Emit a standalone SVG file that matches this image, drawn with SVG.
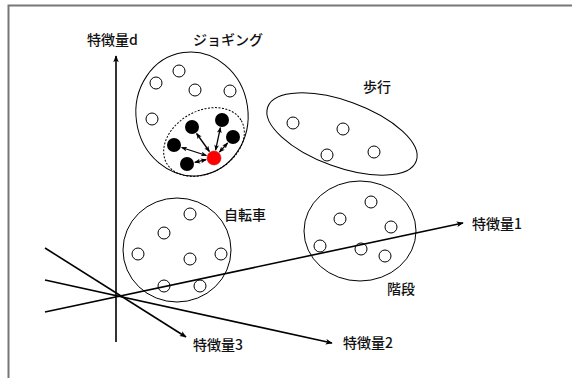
<svg xmlns="http://www.w3.org/2000/svg" width="572" height="378" viewBox="0 0 572 378">
<defs>
<marker id="ah" viewBox="0 0 10 8" refX="9" refY="4" markerWidth="7" markerHeight="6" markerUnits="userSpaceOnUse" orient="auto">
<path d="M0,0 L10,4 L0,8 L2.5,4 z" fill="#000"/>
</marker>
<marker id="ahs" viewBox="0 0 10 8" refX="9" refY="4" markerWidth="6" markerHeight="5" markerUnits="userSpaceOnUse" orient="auto-start-reverse">
<path d="M0,0 L10,4 L0,8 L2.5,4 z" fill="#000"/>
</marker>
</defs>
<style>
.t{font-family:"Noto Sans CJK JP","Liberation Sans",sans-serif;font-size:14px;font-weight:500;fill:#111}
.c{fill:#fff;stroke:#000;stroke-width:1}
.b{fill:#000}
.g{fill:none;stroke:#000;stroke-width:1}
.ax{stroke:#000;stroke-width:1.6;fill:none}
.da{stroke:#000;stroke-width:1.3;fill:none;marker-start:url(#ahs);marker-end:url(#ahs)}
</style>
<rect x="0" y="0" width="572" height="378" fill="#fff"/>
<path d="M8.5,378 V5.5 H572" fill="none" stroke="#777" stroke-width="2"/>

<g id="jogging">
<ellipse class="g" cx="192" cy="114" rx="56" ry="62" transform="rotate(-8 192 114)"/>
<ellipse class="g" cx="204" cy="142" rx="43" ry="31" stroke-dasharray="2,1.5" transform="rotate(-30 204 142)"/>
<circle class="c" cx="179" cy="71" r="6"/>
<circle class="c" cx="156" cy="83" r="6"/>
<circle class="c" cx="195" cy="90" r="6"/>
<circle class="c" cx="230" cy="91" r="6"/>
<circle class="c" cx="152" cy="119" r="6"/>
<circle class="b" cx="192" cy="127" r="7"/>
<circle class="b" cx="222" cy="120" r="7"/>
<circle class="b" cx="233" cy="137" r="7"/>
<circle class="b" cx="174" cy="145" r="7"/>
<circle class="b" cx="187" cy="164" r="7"/>
<circle cx="214" cy="158" r="7" fill="#f00" stroke="#c00" stroke-width="0.5"/>
<line class="da" x1="209.4" y1="151.5" x2="196.6" y2="133.5"/>
<line class="da" x1="215.6" y1="150.2" x2="220.4" y2="127.6"/>
<line class="da" x1="219.4" y1="152.1" x2="227.6" y2="143.0"/>
<line class="da" x1="206.4" y1="155.5" x2="181.6" y2="147.5"/>
<line class="da" x1="206.2" y1="159.7" x2="194.8" y2="162.3"/>
<text class="t" x="193" y="45">ジョギング</text>
</g>

<g id="walking">
<ellipse class="g" cx="342" cy="134" rx="79" ry="33" transform="rotate(20 342 134)"/>
<circle class="c" cx="293" cy="123" r="6"/>
<circle class="c" cx="343" cy="129" r="6"/>
<circle class="c" cx="327" cy="155" r="6"/>
<circle class="c" cx="374" cy="152" r="6"/>
<text class="t" x="363" y="92">歩行</text>
</g>

<g id="bicycle">
<ellipse class="g" cx="177" cy="250" rx="54" ry="52"/>
<circle class="c" cx="190" cy="214" r="6"/>
<circle class="c" cx="164" cy="233" r="6"/>
<circle class="c" cx="138" cy="254" r="6"/>
<circle class="c" cx="190" cy="259" r="6"/>
<circle class="c" cx="221" cy="254" r="6"/>
<circle class="c" cx="164" cy="286" r="6"/>
<circle class="c" cx="200" cy="286" r="6"/>
<text class="t" x="224" y="220">自転車</text>
</g>

<g id="stairs">
<ellipse class="g" cx="360" cy="231" rx="56" ry="50"/>
<circle class="c" cx="371" cy="202" r="6"/>
<circle class="c" cx="340" cy="219" r="6"/>
<circle class="c" cx="391" cy="227" r="6"/>
<circle class="c" cx="320" cy="246" r="6"/>
<circle class="c" cx="361" cy="249" r="6"/>
<circle class="c" cx="385" cy="256" r="6"/>
<text class="t" x="387" y="294">階段</text>
</g>

<g id="connectors">
<line class="ax" x1="116" y1="342" x2="116" y2="56" marker-end="url(#ah)"/>
<line class="ax" x1="45" y1="312" x2="463" y2="223" marker-end="url(#ah)"/>
<line class="ax" x1="45" y1="280" x2="332" y2="343" marker-end="url(#ah)"/>
<line class="ax" x1="45" y1="248" x2="186" y2="337" marker-end="url(#ah)"/>
</g>

<g id="labels">
<text class="t" x="87" y="45">特徴量d</text>
<text class="t" x="472" y="229">特徴量1</text>
<text class="t" x="343" y="348">特徴量2</text>
<text class="t" x="193" y="350">特徴量3</text>
</g>
</svg>
